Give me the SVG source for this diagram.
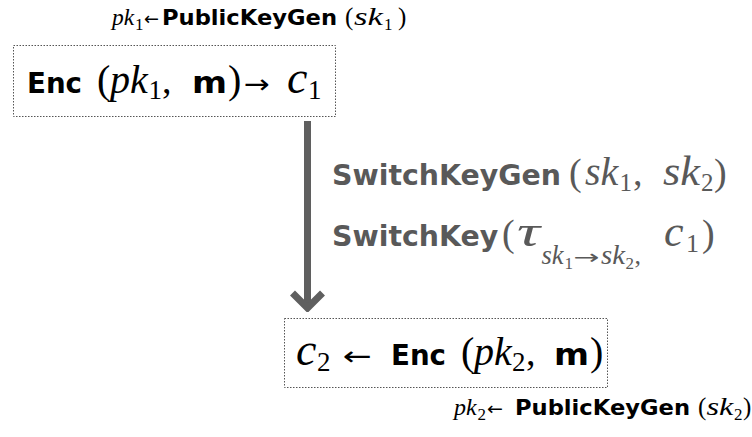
<svg xmlns="http://www.w3.org/2000/svg" width="752" height="437" viewBox="0 0 752 437">
<defs>
<style>
.w{font-family:"DejaVu Sans","Liberation Sans",sans-serif;font-weight:bold}
.m{font-family:"Liberation Serif","DejaVu Serif",serif;font-style:italic;font-weight:normal}
.r{font-family:"Liberation Serif","DejaVu Serif",serif;font-weight:normal}
.a{font-family:"DejaVu Sans",sans-serif;font-weight:normal}
.box{fill:#fff;stroke:#555;stroke-width:1;stroke-dasharray:1.5 1.5}
.k{fill:#000}
.g{fill:#595959}
</style>
<marker id="chev" markerUnits="userSpaceOnUse" viewBox="-22 -20 26 40" markerWidth="26" markerHeight="40" refX="0" refY="0" orient="auto">
<path d="M-15,-15 L0,0 L-15,15" fill="none" stroke="#5f5f5f" stroke-width="7" stroke-linejoin="miter"/>
</marker>
</defs>
<rect width="752" height="437" fill="#fff"/>

<g id="label-top" class="k">
<text y="25"><tspan class="m" x="112" font-size="23.5">pk</tspan><tspan class="r" x="135" y="30" font-size="17">1</tspan><tspan class="a" x="144" y="25" font-size="18" textLength="15" lengthAdjust="spacingAndGlyphs">←</tspan><tspan class="w" x="162" font-size="21" textLength="175" lengthAdjust="spacingAndGlyphs">PublicKeyGen</tspan><tspan class="r" x="345" font-size="25">(</tspan><tspan class="m" x="354" font-size="26" textLength="29" lengthAdjust="spacingAndGlyphs">sk</tspan><tspan class="r" x="384" y="30" font-size="17">1</tspan><tspan class="r" x="398" y="25" font-size="25">)</tspan></text>
</g>

<g id="node-enc1" class="k">
<rect class="box" x="13.5" y="45.5" width="322" height="71"/>
<text y="93"><tspan class="w" x="27" font-size="29" textLength="55" lengthAdjust="spacingAndGlyphs">Enc</tspan><tspan class="r" x="97" font-size="40">(</tspan><tspan class="m" x="110" font-size="40">pk</tspan><tspan class="r" x="148.5" y="99" font-size="27">1</tspan><tspan class="r" x="162" y="93" font-size="38">,</tspan><tspan class="w" x="192" font-size="30" textLength="35" lengthAdjust="spacingAndGlyphs">m</tspan><tspan class="r" x="228" font-size="40">)</tspan><tspan class="a" x="244" font-size="26" textLength="26" lengthAdjust="spacingAndGlyphs">→</tspan><tspan class="m" x="287" font-size="46">c</tspan><tspan class="r" x="308" y="99" font-size="27">1</tspan></text>
</g>

<g id="connectors">
<line x1="307.5" y1="121" x2="307.5" y2="308" stroke="#5f5f5f" stroke-width="7" marker-end="url(#chev)"/>
</g>

<g id="label-switch" class="g">
<text y="185"><tspan class="w" x="332" font-size="28.4">SwitchKeyGen</tspan><tspan class="r" x="569" font-size="38">(</tspan><tspan class="m" x="585" font-size="40">sk</tspan><tspan class="r" x="619.5" y="191" font-size="25">1</tspan><tspan class="r" x="633" y="185" font-size="38">,</tspan><tspan class="m" x="663" font-size="42" textLength="37" lengthAdjust="spacingAndGlyphs">sk</tspan><tspan class="r" x="701" y="191" font-size="25">2</tspan><tspan class="r" x="714" y="185" font-size="38">)</tspan></text>
<text y="246"><tspan class="w" x="332" font-size="28.4">SwitchKey</tspan><tspan class="r" x="502" font-size="38">(</tspan><tspan class="m" x="517" font-size="44" textLength="23" lengthAdjust="spacingAndGlyphs">τ</tspan><tspan class="m" x="541.5" y="264" font-size="26.5">sk</tspan><tspan class="r" x="564.5" y="269" font-size="17">1</tspan><tspan class="a" x="573.5" y="264" font-size="20" textLength="26" lengthAdjust="spacingAndGlyphs">→</tspan><tspan class="m" x="601" font-size="28" textLength="24" lengthAdjust="spacingAndGlyphs">sk</tspan><tspan class="r" x="625.5" y="269" font-size="17">2</tspan><tspan class="r" x="634.5" y="264" font-size="26">,</tspan><tspan class="m" x="664" y="246" font-size="44">c</tspan><tspan class="r" x="686" y="252" font-size="26">1</tspan><tspan class="r" x="702" y="246" font-size="38">)</tspan></text>
</g>

<g id="node-enc2" class="k">
<rect class="box" x="284.5" y="318.5" width="323" height="69"/>
<text y="365"><tspan class="m" x="296" font-size="46">c</tspan><tspan class="r" x="317" y="371" font-size="27">2</tspan><tspan class="a" x="343" y="365" font-size="26" textLength="29" lengthAdjust="spacingAndGlyphs">←</tspan><tspan class="w" x="391" font-size="29" textLength="55" lengthAdjust="spacingAndGlyphs">Enc</tspan><tspan class="r" x="461" font-size="40">(</tspan><tspan class="m" x="474" font-size="40">pk</tspan><tspan class="r" x="512" y="371" font-size="27">2</tspan><tspan class="r" x="526" y="365" font-size="38">,</tspan><tspan class="w" x="554" font-size="30" textLength="35" lengthAdjust="spacingAndGlyphs">m</tspan><tspan class="r" x="590" font-size="40">)</tspan></text>
</g>

<g id="label-bottom" class="k">
<text y="415"><tspan class="m" x="454" font-size="24">pk</tspan><tspan class="r" x="477.5" y="420" font-size="17">2</tspan><tspan class="a" x="487" y="415" font-size="18" textLength="16" lengthAdjust="spacingAndGlyphs">←</tspan><tspan class="w" x="515" font-size="21" textLength="175" lengthAdjust="spacingAndGlyphs">PublicKeyGen</tspan><tspan class="r" x="698" font-size="25">(</tspan><tspan class="m" x="706.5" font-size="26" textLength="27" lengthAdjust="spacingAndGlyphs">sk</tspan><tspan class="r" x="734" y="420" font-size="17">2</tspan><tspan class="r" x="743" y="415" font-size="25">)</tspan></text>
</g>
</svg>
